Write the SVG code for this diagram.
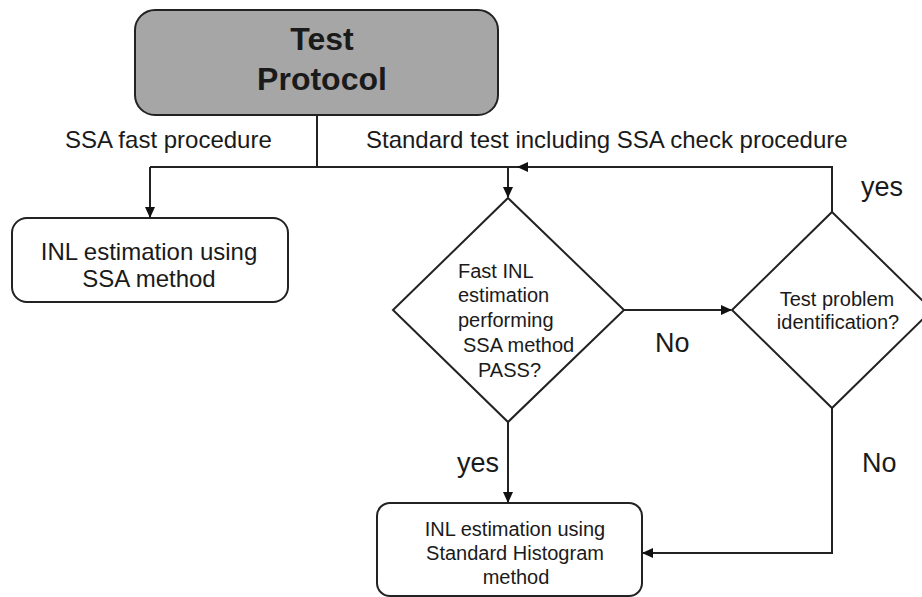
<svg xmlns="http://www.w3.org/2000/svg" width="922" height="597" viewBox="0 0 922 597">
<defs>
<marker id="ah" markerWidth="11" markerHeight="10" refX="10" refY="5" orient="auto" markerUnits="userSpaceOnUse">
<path d="M0,0 L11,5 L0,10 Z" fill="#111"/>
</marker>
<style>
text{font-family:"Liberation Sans",Arial,sans-serif;fill:#1a1a1a}
.box{fill:#fff;stroke:#222;stroke-width:2}
.ln{fill:none;stroke:#222;stroke-width:2}
.lbl{font-size:24px}
.big{font-size:27px}
.d1{font-size:20px}
</style>
</defs>
<rect width="922" height="597" fill="#fff"/>
<g id="connectors">
<polyline class="ln" points="317,115 317,167"/>
<polyline class="ln" points="150,167 832,167"/>
<polyline class="ln" points="150,167 150,217" marker-end="url(#ah)"/>
<polyline class="ln" points="508,167 508,197" marker-end="url(#ah)"/>
<polyline class="ln" points="832,212 832,167 518,167" marker-end="url(#ah)"/>
<polyline class="ln" points="624,310 731,310" marker-end="url(#ah)"/>
<polyline class="ln" points="508,422 508,502" marker-end="url(#ah)"/>
<polyline class="ln" points="832,408 832,553 643,553" marker-end="url(#ah)"/>
</g>
<g id="labels">
<text class="lbl" x="65" y="148">SSA fast procedure</text>
<text class="lbl" x="366" y="148">Standard test including SSA check procedure</text>
<text class="big" x="861" y="196">yes</text>
<text class="big" x="655" y="352">No</text>
<text class="big" x="457" y="472">yes</text>
<text class="big" x="862" y="472">No</text>
</g>
<g id="test-protocol">
<rect x="135" y="10" width="363" height="105" rx="20" fill="#a6a6a6" stroke="#222" stroke-width="2"/>
<text x="322" y="50" font-size="32" font-weight="bold" text-anchor="middle">Test</text>
<text x="322" y="90" font-size="32" font-weight="bold" text-anchor="middle">Protocol</text>
</g>
<g id="inl-ssa">
<rect class="box" x="12" y="218" width="276" height="84" rx="15"/>
<text x="149" y="260" font-size="24" text-anchor="middle">INL estimation using</text>
<text x="149" y="287" font-size="24" text-anchor="middle">SSA method</text>
</g>
<g id="fast-inl">
<polygon class="box" points="508,198 624,310 508,422 393,310"/>
<text class="d1" x="458" y="278">Fast INL</text>
<text class="d1" x="458" y="302">estimation</text>
<text class="d1" x="458" y="327">performing</text>
<text class="d1" x="463" y="352">SSA method</text>
<text class="d1" x="478" y="377">PASS?</text>
</g>
<g id="test-problem">
<polygon class="box" points="832,212 932,310 832,408 732,310"/>
<text x="837" y="306" font-size="20" text-anchor="middle">Test problem</text>
<text x="838" y="329" font-size="20" text-anchor="middle">identification?</text>
</g>
<g id="inl-hist">
<rect class="box" x="377" y="503" width="265" height="93" rx="13"/>
<text x="515" y="536" font-size="20" text-anchor="middle">INL estimation using</text>
<text x="515" y="560" font-size="20" text-anchor="middle">Standard Histogram</text>
<text x="516" y="584" font-size="20" text-anchor="middle">method</text>
</g>
</svg>
